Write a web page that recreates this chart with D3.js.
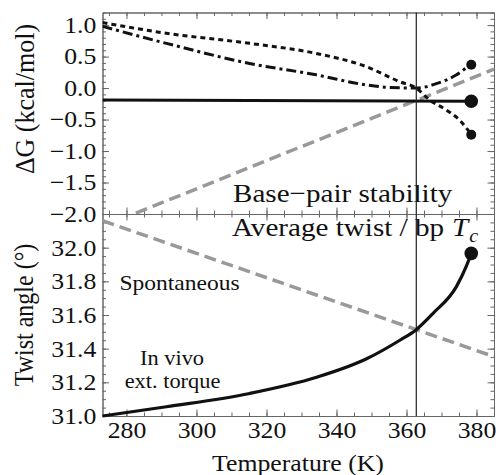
<!DOCTYPE html>
<html>
<head>
<meta charset="utf-8">
<script src="https://cdnjs.cloudflare.com/ajax/libs/d3/7.8.5/d3.min.js"></script>
<style>
body { margin: 0; background: #fff; }
text { font-family: "Liberation Serif", "Times New Roman", serif; fill: #111; }
</style>
</head>
<body>
<script>
// values
var tempDomain = [273.15, 385];
var tStar = 362.8;   // vertical guide line
var tC = 378.5;      // end points / T_c

var xTicks = [280, 300, 320, 340, 360, 380];
var dgTicks = [1.0, 0.5, 0.0, -0.5, -1.0, -1.5, -2.0];
var twTicks = [31.0, 31.2, 31.4, 31.6, 31.8, 32.0];

// top panel, Delta G (kcal/mol) vs T
var dgSolid = [[273.15, -0.19], [tC, -0.21]];
var dgGray = [[273.15, -2.2], [385, 0.30]];
var dgDotted = [[273.15, 1.04], [291.4, 0.87], [315.2, 0.71], [334.2, 0.55], [348.5, 0.34],
    [358.1, 0.10], [362.8, 0.0], [366.6, -0.19], [371.4, -0.35], [375.2, -0.51], [tC, -0.74]];
var dgDashDot = [[273.15, 0.98], [291.4, 0.71], [315.2, 0.39], [334.2, 0.21], [348.5, 0.05],
    [355, 0.01], [362.8, 0.0], [368.5, 0.07], [374.3, 0.21], [377.6, 0.34], [tC, 0.37]];
var dgBigDot = [[tC, -0.21]];
var dgSmallDots = [[tC, 0.37], [tC, -0.74]];

// bottom panel, twist angle (deg) vs T
var twCurve = [[273.15, 31.0], [291.4, 31.055], [315.2, 31.134], [334.3, 31.23], [348.6, 31.34],
    [358.1, 31.45], [362.8, 31.513], [367.6, 31.61], [374.3, 31.77], [377.1, 31.89], [tC, 31.966]];
var twGray = [[273.15, 32.16], [385, 31.353]];
var twDot = [[tC, 31.966]];

//setup sizes
var W = 498, H = 475;
var left = 102.5, right = 494, top1 = 12.5, mid = 214, bot = 416;
var sx = 1.12;   // the figure's glyphs are a bit wide

var svg = d3.select('body').append('svg')
    .attr('width', W)
    .attr('height', H);

var x = d3.scaleLinear().domain(tempDomain).range([left, right]);
var yTop = d3.scaleLinear().domain([-2, 1.2]).range([mid, top1]);
var yBot = d3.scaleLinear().domain([31, 32.2]).range([bot, mid]);

function stretch(sel) {
    sel.attr('transform', function() {
        var t = d3.select(this).attr('transform') || '';
        return t + ' scale(' + sx + ',1)';
    });
}

//frame with inward ticks on all four sides
function frame(y, yMajor, yMinor, showX) {
    var g = svg.append('g');
    var fmt = d3.format('.1f');
    var xMinor = d3.range(275, 386, 5);

    function ax(gen, tx, ty, major, minor, lab, f) {
        var a = g.append('g').attr('transform', 'translate(' + tx + ',' + ty + ')')
            .call(gen.tickValues(minor).tickSizeInner(-3.5).tickSizeOuter(0).tickFormat(''));
        a.selectAll('text').remove();
        var b = g.append('g').attr('transform', 'translate(' + tx + ',' + ty + ')')
            .call(gen.tickValues(major).tickSizeInner(-6.5).tickSizeOuter(0)
                .tickPadding(5.5).tickFormat(lab ? f : ''));
        if (!lab) b.selectAll('text').remove();
        [a, b].forEach(function(s) {
            s.selectAll('.domain').attr('stroke', '#666');
            s.selectAll('line').attr('stroke', '#666');
            s.selectAll('text').attr('font-size', 23).attr('fill', '#111')
                .attr('font-family', '"Liberation Serif", serif').call(stretch);
        });
    }
    ax(d3.axisLeft(y), left, 0, yMajor, yMinor, true, fmt);
    ax(d3.axisRight(y), right, 0, yMajor, yMinor, false, fmt);
    ax(d3.axisBottom(x), 0, y.range()[0], xTicks, xMinor, showX, d3.format('d'));
    ax(d3.axisTop(x), 0, y.range()[1], xTicks, xMinor, false, d3.format('d'));
}

frame(yTop, dgTicks, d3.range(-20, 13).map(function(d) { return d / 10; }), false);
frame(yBot, twTicks, d3.range(0, 25).map(function(d) { return 31 + d * 0.05; }), true);

//clip paths for the panels
var defs = svg.append('defs');
defs.append('clipPath').attr('id', 'clipTop').append('rect')
    .attr('x', left).attr('y', top1).attr('width', right - left).attr('height', mid - top1);
defs.append('clipPath').attr('id', 'clipBot').append('rect')
    .attr('x', left).attr('y', mid).attr('width', right - left).attr('height', bot - mid);

var lineTop = d3.line().x(function(d) { return x(d[0]); }).y(function(d) { return yTop(d[1]); });
var curveTop = d3.line().curve(d3.curveMonotoneX)
    .x(function(d) { return x(d[0]); }).y(function(d) { return yTop(d[1]); });
var lineBot = d3.line().x(function(d) { return x(d[0]); }).y(function(d) { return yBot(d[1]); });
var curveBot = d3.line().curve(d3.curveMonotoneX)
    .x(function(d) { return x(d[0]); }).y(function(d) { return yBot(d[1]); });

var gt = svg.append('g').attr('clip-path', 'url(#clipTop)');
var gb = svg.append('g').attr('clip-path', 'url(#clipBot)');

//vertical guide
svg.append('line')
    .attr('x1', x(tStar)).attr('x2', x(tStar))
    .attr('y1', top1).attr('y2', bot)
    .attr('stroke', '#222').attr('stroke-width', 1.2);

// top panel lines
gt.append('path').datum(dgGray).attr('d', lineTop)
    .attr('fill', 'none').attr('stroke', '#999').attr('stroke-width', 3.5)
    .attr('stroke-dasharray', '12,6');
gt.append('path').datum(dgSolid).attr('d', lineTop)
    .attr('fill', 'none').attr('stroke', '#111').attr('stroke-width', 3);
gt.append('path').datum(dgDotted).attr('d', curveTop)
    .attr('fill', 'none').attr('stroke', '#111').attr('stroke-width', 3)
    .attr('stroke-dasharray', '5,4');
gt.append('path').datum(dgDashDot).attr('d', curveTop)
    .attr('fill', 'none').attr('stroke', '#111').attr('stroke-width', 3)
    .attr('stroke-dasharray', '10,4,3,4');

svg.selectAll('.bigdot').data(dgBigDot).enter().append('circle')
    .attr('cx', function(d) { return x(d[0]); }).attr('cy', function(d) { return yTop(d[1]); })
    .attr('r', 6.8).attr('fill', '#111');
svg.selectAll('.smalldot').data(dgSmallDots).enter().append('circle')
    .attr('cx', function(d) { return x(d[0]); }).attr('cy', function(d) { return yTop(d[1]); })
    .attr('r', 5).attr('fill', '#111');

// bottom panel lines
gb.append('path').datum(twGray).attr('d', lineBot)
    .attr('fill', 'none').attr('stroke', '#999').attr('stroke-width', 3.5)
    .attr('stroke-dasharray', '12,6');
svg.append('path').datum(twCurve).attr('d', curveBot)
    .attr('fill', 'none').attr('stroke', '#111').attr('stroke-width', 3.2);
svg.selectAll('.tcdot').data(twDot).enter().append('circle')
    .attr('cx', function(d) { return x(d[0]); }).attr('cy', function(d) { return yBot(d[1]); })
    .attr('r', 6.8).attr('fill', '#111');

//texts
function label(txt, tx, ty, size, anchor) {
    return svg.append('text')
        .attr('transform', 'translate(' + tx + ',' + ty + ') scale(' + sx + ',1)')
        .attr('font-size', size)
        .attr('text-anchor', anchor || 'start')
        .text(txt);
}
label('Base\u2212pair stability', 233, 202, 26);
label('Average twist / bp', 232, 236, 26);
var tc = label('T', 452, 236, 26);
tc.attr('font-style', 'italic');
tc.append('tspan').attr('font-size', 18).attr('dy', 6).attr('dx', 1).text('c');
label('Spontaneous', 179.5, 290, 21, 'middle');
label('In vivo', 172, 365, 20, 'middle');
label('ext. torque', 172.5, 388, 20, 'middle');
label('Temperature (K)', 298, 471, 23, 'middle');

svg.append('text')
    .attr('transform', 'translate(34,99) rotate(-90) scale(1,1.06)')
    .attr('font-size', 26).attr('text-anchor', 'middle')
    .text('\u0394G (kcal/mol)');
svg.append('text')
    .attr('transform', 'translate(33,' + (mid + bot) / 2 + ') rotate(-90) scale(1,' + sx + ')')
    .attr('font-size', 24).attr('text-anchor', 'middle')
    .text('Twist angle (\u00b0)');
</script>
</body>
</html>
